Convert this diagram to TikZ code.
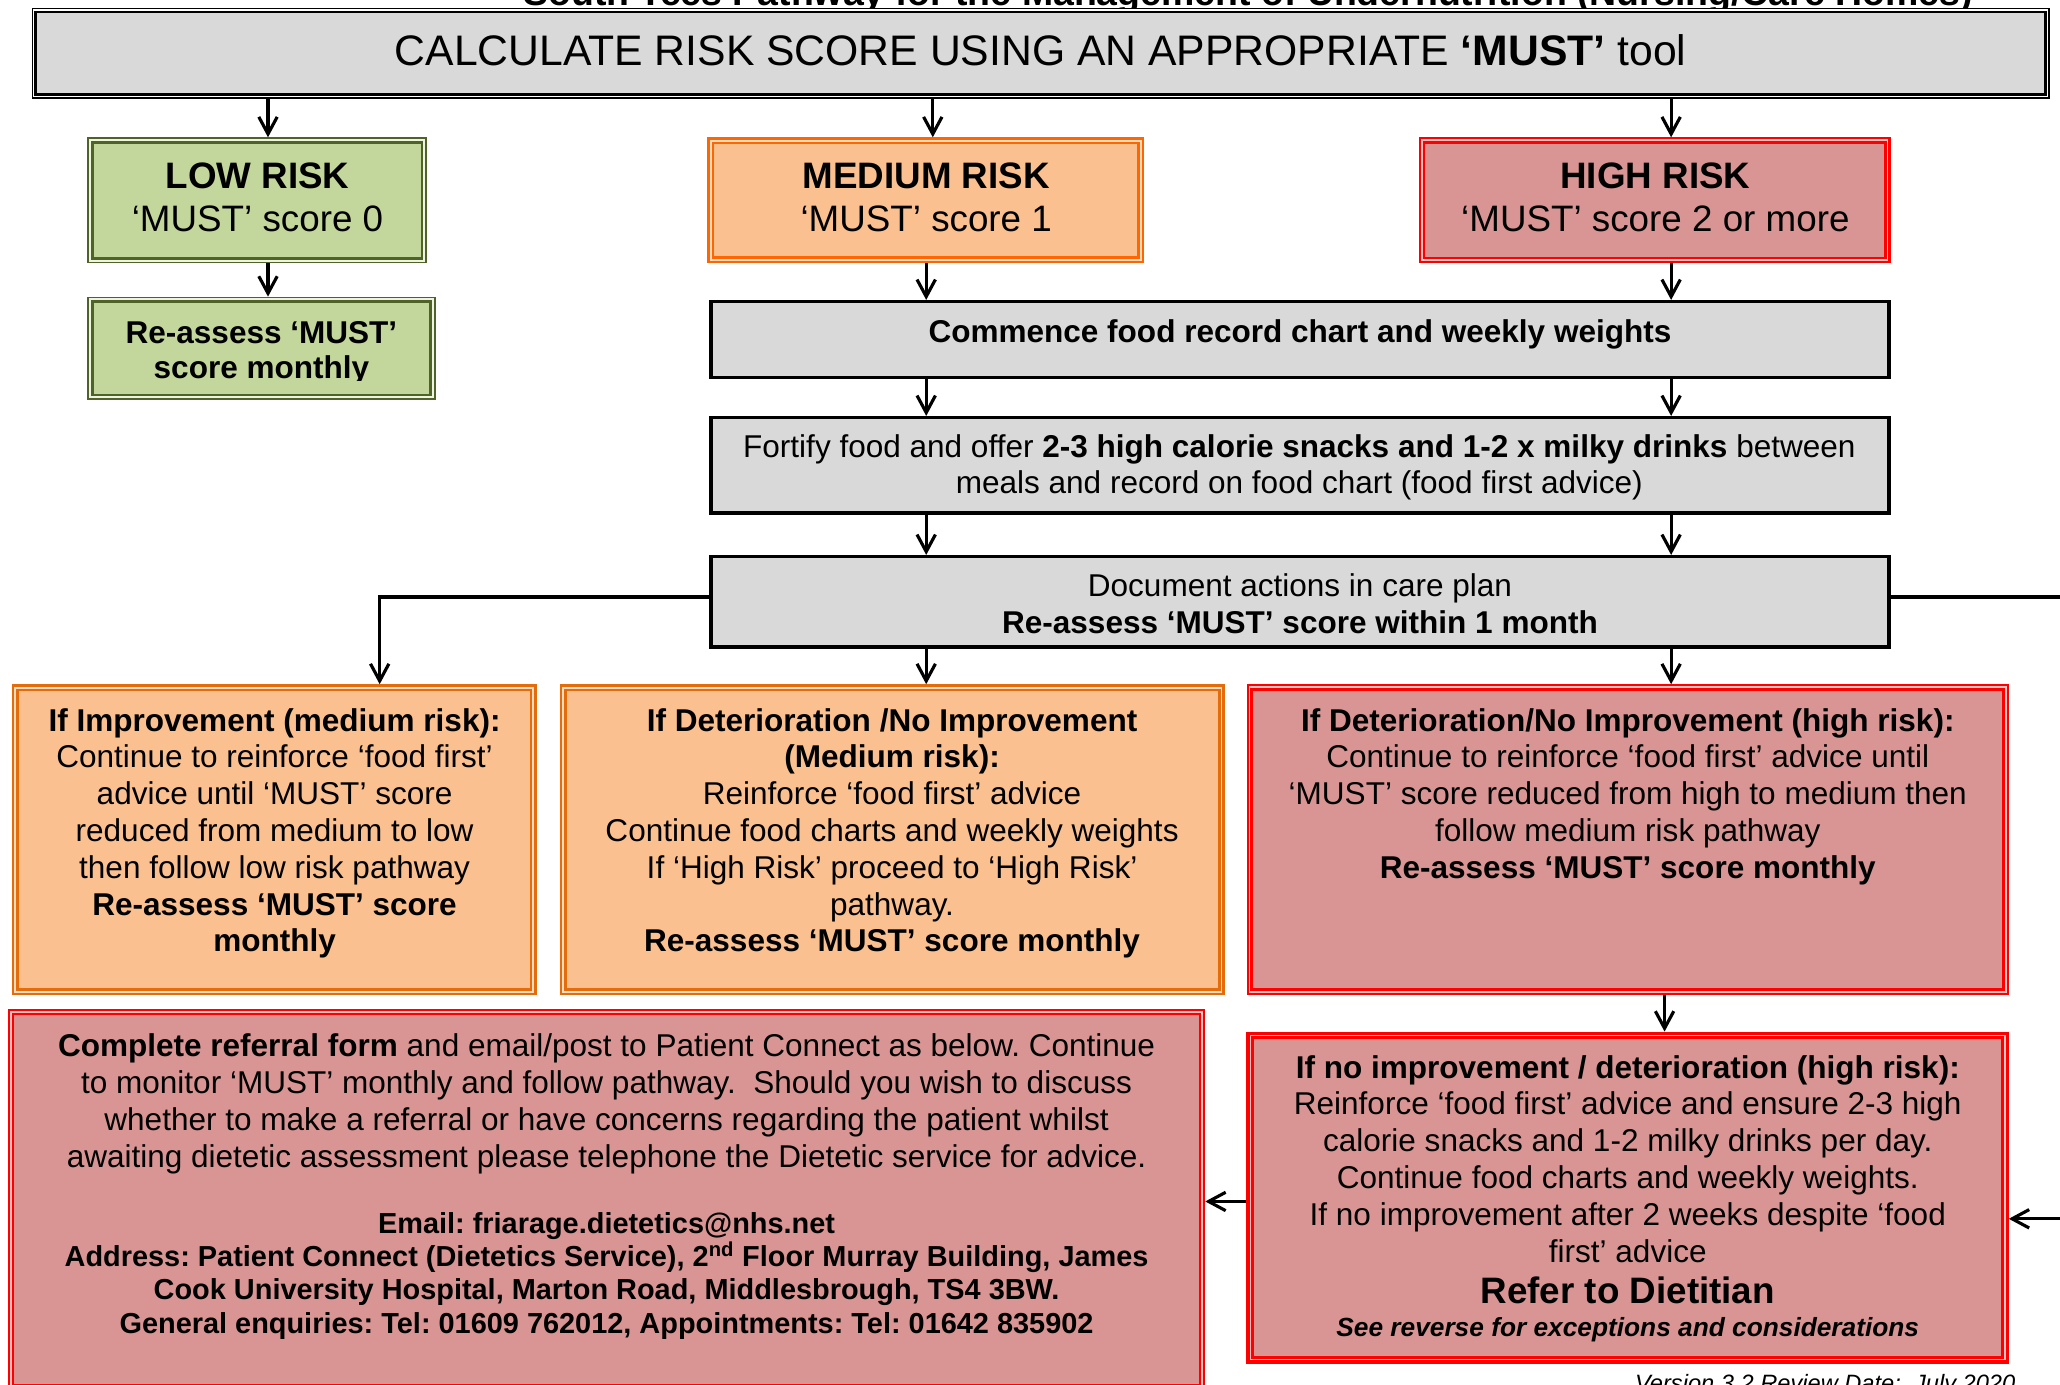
\documentclass[tikz,border=0pt]{standalone}
\usepackage{fontspec}
\setmainfont{Liberation Sans}
\usetikzlibrary{arrows.meta}
\frenchspacing
\definecolor{grayfill}{HTML}{D9D9D9}
\definecolor{greenfill}{HTML}{C3D69B}
\definecolor{greenline}{HTML}{4F6228}
\definecolor{greengap}{HTML}{EEF3E2}
\definecolor{orfill}{HTML}{FAC090}
\definecolor{orlineA}{HTML}{FF6600}
\definecolor{orlineB}{HTML}{E46C0A}
\definecolor{orgap}{HTML}{FCDCC0}
\definecolor{redfill}{HTML}{D99594}
\definecolor{redline}{HTML}{FF0000}
\definecolor{redgap}{HTML}{F2C4C4}
\begin{document}
\begin{tikzpicture}[x=1pt,y=-1pt,
  dbox/.style n args={5}{fill=#1, draw=#2, line width=2pt,
    preaction={draw=#2, line width=#4pt},
    preaction={draw=#3, line width=#5pt},
    inner sep=0pt, outer sep=#4pt/2},
  graybox/.style={fill=grayfill, draw=black, line width=2.5pt, inner sep=0pt, outer sep=1.25pt},
  txt/.style={inner sep=0pt, outer sep=0pt, align=center, anchor=base},
  body/.style={txt, font=\fontsize{24}{28}\selectfont},
  risk/.style={txt, font=\fontsize{28}{33}\selectfont},
  arr/.style={line width=2.4pt, -{Straight Barb[length=13pt,width=14pt]}},
  conn/.style={line width=2.4pt}
]
\fill[white] (0,0) rectangle (1568,1054);
\useasboundingbox (0,0) rectangle (1568,1054);

% partial page title
\node[txt, font=\fontsize{28.5}{33}\selectfont\bfseries] (pagetitle) at (950,4)
  {South Tees Pathway for the Management of Undernutrition (Nursing/Care Homes)};

% boxes
\node[dbox={grayfill}{black}{white}{6}{4}, minimum width=1530, minimum height=63] (top) at (792,40.5) {};
\node[dbox={greenfill}{greenline}{greengap}{7.6}{5}, minimum width=250.9, minimum height=88.3] (low) at (195.75,152.45) {};
\node[dbox={greenfill}{greenline}{greengap}{7.6}{5}, minimum width=257.4, minimum height=71] (reas) at (199,265.1) {};
\node[dbox={orfill}{orlineA}{orgap}{8.6}{5}, minimum width=323.9, minimum height=87.3] (med) at (704.75,152.45) {};
\node[dbox={redfill}{redline}{redgap}{7.8}{4.6}, minimum width=351.2, minimum height=88.1] (high) at (1259.5,152.45) {};
\node[graybox, minimum width=896.5, minimum height=57.6] (comm) at (989.5,258.35) {};
\node[graybox, minimum width=896.5, minimum height=72.7] (fort) at (989.5,354.2) {};
\node[graybox, minimum width=896.5, minimum height=68.8] (doc) at (989.5,458.05) {};
\node[dbox={orfill}{orlineB}{orgap}{8.6}{5}, minimum width=390.9, minimum height=227.9] (impA) at (208.75,639.05) {};
\node[dbox={orfill}{orlineB}{orgap}{8.6}{5}, minimum width=497.7, minimum height=227.9] (detB) at (679.15,639.05) {};
\node[dbox={redfill}{redline}{redgap}{7.8}{4.6}, minimum width=572.2, minimum height=228.7] (detC) at (1238.9,639.05) {};
\node[dbox={redfill}{redline}{redgap}{9.4}{4.4}, minimum width=570.9, minimum height=243.4] (noimpD) at (1238.85,911.6) {};
\node[dbox={redfill}{redline}{redgap}{7.8}{4.6}, minimum width=903.6, minimum height=282.2] (refE) at (461.7,913) {};

% texts (anchor base = baseline of the last line)
\node[txt, font=\fontsize{32.5}{38}\selectfont] (topT) at (792,49.5)
  {CALCULATE RISK SCORE USING AN APPROPRIATE \textbf{‘MUST’} tool};
\node[risk] (lowT) at (196,176.3) {\textbf{LOW RISK}\\‘MUST’ score 0};
\begin{scope}
  \clip (60,220) rectangle (340,289.6);
  \node[txt, font=\fontsize{24}{27}\selectfont\bfseries] (reasT) at (199,288.3)
    {Re-assess ‘MUST’\\score monthly};
\end{scope}
\node[risk] (medT) at (705,176.3) {\textbf{MEDIUM RISK}\\‘MUST’ score 1};
\node[risk] (highT) at (1260,176.3) {\textbf{HIGH RISK}\\‘MUST’ score 2 or more};
\node[body, font=\fontsize{24}{28}\selectfont\bfseries] (commT) at (989.5,261)
  {Commence food record chart and weekly weights};
\node[body] (fortT) at (989,376)
  {Fortify food and offer \textbf{2-3 high calorie snacks and 1-2 x milky drinks} between\\meals and record on food chart (food first advice)};
\node[body] (docT) at (989.5,482.4)
  {Document actions in care plan\\\textbf{Re-assess ‘MUST’ score within 1 month}};
\node[body] (impAT) at (209,724.5)
  {\textbf{If Improvement (medium risk):}\\Continue to reinforce ‘food first’\\advice until ‘MUST’ score\\reduced from medium to low\\then follow low risk pathway\\\textbf{Re-assess ‘MUST’ score}\\\textbf{monthly}};
\node[body] (detBT) at (679,724.5)
  {\textbf{If Deterioration /No Improvement}\\\textbf{(Medium risk):}\\Reinforce ‘food first’ advice\\Continue food charts and weekly weights\\If ‘High Risk’ proceed to ‘High Risk’\\pathway.\\\textbf{Re-assess ‘MUST’ score monthly}};
\node[body] (detCT) at (1239,668.5)
  {\textbf{If Deterioration/No Improvement (high risk):}\\Continue to reinforce ‘food first’ advice until\\‘MUST’ score reduced from high to medium then\\follow medium risk pathway\\\textbf{Re-assess ‘MUST’ score monthly}};
\node[body] (noimpDT) at (1239,960.6)
  {\textbf{If no improvement / deterioration (high risk):}\\Reinforce ‘food first’ advice and ensure 2-3 high\\calorie snacks and 1-2 milky drinks per day.\\Continue food charts and weekly weights.\\If no improvement after 2 weeks despite ‘food\\first’ advice};
\node[txt, font=\fontsize{28}{33}\selectfont\bfseries] (referT) at (1239,991.9) {Refer to Dietitian};
\node[txt, font=\fontsize{20}{24}\selectfont\bfseries\itshape] (seeT) at (1239,1017.3)
  {See reverse for exceptions and considerations};
\node[body] (refET) at (461.7,888.5)
  {\textbf{Complete referral form} and email/post to Patient Connect as below. Continue\\to monitor ‘MUST’ monthly and follow pathway.\ \ Should you wish to discuss\\whether to make a referral or have concerns regarding the patient whilst\\awaiting dietetic assessment please telephone the Dietetic service for advice.};
\node[txt, font=\fontsize{22}{25.4}\selectfont\bfseries] (contactT) at (461.7,1014.8)
  {Email: friarage.dietetics@nhs.net\\Address: Patient Connect (Dietetics Service), 2\textsuperscript{nd} Floor Murray Building, James\\Cook University Hospital, Marton Road, Middlesbrough, TS4 3BW.\\General enquiries: Tel: 01609 762012, Appointments: Tel: 01642 835902};
\node[txt, anchor=base east, font=\fontsize{18}{21}\selectfont\itshape] (versionT) at (1534,1059.5)
  {Version 3.2 Review Date:\ \ July 2020};

% connector guide coordinates
\coordinate (xa) at (204,0);
\coordinate (xb) at (710,0);
\coordinate (xc) at (705,0);
\coordinate (xd) at (1272,0);
\coordinate (xf) at (1267,0);
\coordinate (corner) at (289,454.4);
\coordinate (edgeR1) at (1575,454.4);
\coordinate (edgeR2) at (1575,927.7);
\coordinate (yde) at (0,914.5);

% connectors
\draw[arr] (xa |- top.south) -- (xa |- low.north);
\draw[arr] (xb |- top.south) -- (xb |- med.north);
\draw[arr] (xd |- top.south) -- (xd |- high.north);
\draw[arr] (xa |- low.south) -- (xa |- reas.north);
\draw[arr] (xc |- med.south) -- (xc |- comm.north);
\draw[arr] (xd |- high.south) -- (xd |- comm.north);
\draw[arr] (xc |- comm.south) -- (xc |- fort.north);
\draw[arr] (xd |- comm.south) -- (xd |- fort.north);
\draw[arr] (xc |- fort.south) -- (xc |- doc.north);
\draw[arr] (xd |- fort.south) -- (xd |- doc.north);
\draw[arr] (doc.west |- corner) -- (corner) -- (corner |- impA.north);
\draw[arr] (xc |- doc.south) -- (xc |- detB.north);
\draw[arr] (xd |- doc.south) -- (xd |- detC.north);
\draw[conn] (doc.east |- corner) -- (edgeR1);
\draw[arr] (xf |- detC.south) -- (xf |- noimpD.north);
\draw[arr] (noimpD.west |- yde) -- (refE.east |- yde);
\draw[arr] (edgeR2) -- (noimpD.east |- edgeR2);
\end{tikzpicture}
\end{document}
